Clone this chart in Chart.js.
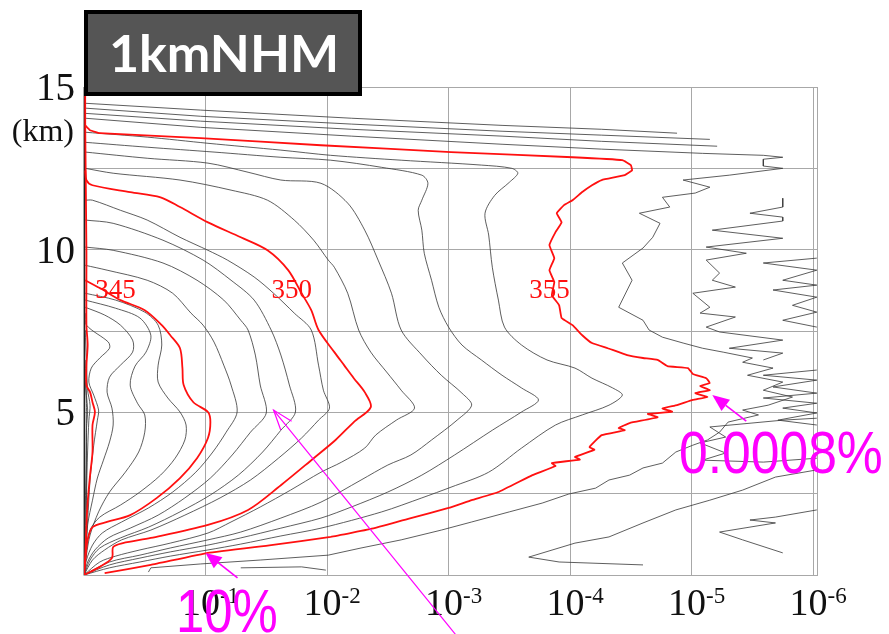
<!DOCTYPE html>
<html>
<head>
<meta charset="utf-8">
<script src="https://cdn.jsdelivr.net/npm/chart.js@4.4.1/dist/chart.umd.min.js"></script>
<style>
  html, body { margin: 0; padding: 0; background: #ffffff; }
  #wrap { width: 889px; height: 634px; position: relative; }
</style>
</head>
<body>
<div id="wrap"><canvas id="chart" width="889" height="634"></canvas></div>
<script>
// Frequency (log10 of fraction of grid points) of equivalent potential
// temperature exceeding each level, versus height in km.
// Each point is [log10(fraction), height km].

const c337 = [[-0.01,5.99],[-0.02,5.38],[-0.02,4.92],[-0.02,3.84],[-0.01,2.0],[0,0]];
const c338 = [[-0.01,6.61],[-0.02,5.53],[-0.03,5.07],[-0.02,4.45],[-0.02,2.92],[-0.01,1.08],[0,0]];
const c339 = [[-0.01,7.53],[-0.02,6.61],[-0.03,5.68],[-0.05,5.22],[-0.04,4.76],[-0.03,3.84],[-0.02,2.30],[-0.02,1.08],[0,0]];
const c340 = [[-0.01,15.0],[-0.01,13.82],[-0.02,9.98],[-0.02,7.68],[-0.03,7.07],[-0.02,6.45],[-0.02,5.84],[-0.05,5.62],[-0.07,5.31],[-0.09,5.01],[-0.07,4.61],[-0.07,3.78],[-0.05,3.07],[-0.03,2.24],[-0.02,1.54],[-0.01,0.52],[0,0]];
const c341 = [[-0.01,8.05],[-0.02,7.68],[-0.2,7.16],[-0.21,6.97],[-0.13,6.67],[-0.06,6.36],[-0.04,5.93],[-0.08,5.53],[-0.12,5.07],[-0.11,4.76],[-0.08,3.99],[-0.05,2.92],[-0.03,1.69],[-0.01,0.61],[0,0]];
const c342 = [[-0.01,8.23],[-0.17,7.99],[-0.30,7.68],[-0.40,7.22],[-0.40,6.85],[-0.30,6.45],[-0.21,6.08],[-0.19,5.62],[-0.23,5.13],[-0.24,4.61],[-0.21,4.09],[-0.16,3.53],[-0.11,2.98],[-0.07,2.30],[-0.03,1.54],[-0.02,0.77],[0,0]];
const c343 = [[-0.01,8.45],[-0.26,8.20],[-0.46,7.90],[-0.55,7.37],[-0.51,6.85],[-0.42,6.42],[-0.38,5.84],[-0.44,5.28],[-0.50,4.92],[-0.50,4.39],[-0.45,3.78],[-0.34,3.16],[-0.21,2.55],[-0.12,1.94],[-0.05,1.23],[-0.02,0.61],[0,0]];
const c344 = [[-0.01,8.66],[-0.26,8.45],[-0.50,8.08],[-0.61,7.68],[-0.64,7.07],[-0.61,6.45],[-0.61,5.93],[-0.69,5.44],[-0.79,5.01],[-0.84,4.61],[-0.83,4.15],[-0.75,3.59],[-0.63,3.07],[-0.46,2.55],[-0.30,2.15],[-0.13,1.78],[-0.05,1.38],[-0.02,0.77],[0,0]];
const c345 = [[-0.01,9.06],[-0.13,8.82],[-0.30,8.45],[-0.50,8.14],[-0.64,7.68],[-0.71,7.37],[-0.79,6.97],[-0.81,6.36],[-0.82,5.84],[-0.90,5.31],[-1.02,5.01],[-1.04,4.70],[-1.02,4.21],[-0.93,3.59],[-0.79,2.98],[-0.60,2.37],[-0.38,1.84],[-0.19,1.63],[-0.07,1.47],[-0.03,1.08],[-0.01,0.46],[0,0]];
const c346 = [[-0.01,9.52],[-0.19,9.37],[-0.52,9.06],[-0.73,8.66],[-0.88,8.05],[-0.98,7.68],[-1.07,7.16],[-1.15,6.45],[-1.21,5.84],[-1.26,5.01],[-1.17,4.39],[-1.06,3.78],[-0.92,3.16],[-0.73,2.55],[-0.53,2.06],[-0.31,1.63],[-0.15,1.29],[-0.07,0.92],[-0.02,0.46],[0,0]];
const c347 = [[-0.01,10.08],[-0.24,9.98],[-0.65,9.59],[-0.93,9.06],[-1.15,8.45],[-1.29,7.83],[-1.35,7.53],[-1.41,6.76],[-1.45,5.84],[-1.50,4.98],[-1.37,4.39],[-1.22,3.69],[-1.04,2.98],[-0.83,2.37],[-0.61,1.84],[-0.38,1.44],[-0.20,1.14],[-0.09,0.77],[-0.03,0.40],[0,0]];
const c348 = [[-0.01,10.91],[-0.24,10.81],[-0.65,10.29],[-0.98,9.68],[-1.21,9.06],[-1.40,8.45],[-1.54,7.53],[-1.62,6.76],[-1.69,5.84],[-1.74,5.01],[-1.62,4.45],[-1.47,3.78],[-1.27,3.07],[-1.04,2.46],[-0.79,1.94],[-0.53,1.47],[-0.30,1.14],[-0.13,0.83],[-0.05,0.46],[0,0]];
const c349 = [[-0.01,11.52],[-0.07,11.52],[-0.30,11.21],[-0.52,10.91],[-0.79,10.38],[-1.02,9.98],[-1.18,9.68],[-1.40,9.16],[-1.56,8.66],[-1.73,8.05],[-1.87,7.53],[-1.93,6.45],[-1.97,5.68],[-2.02,5.13],[-1.93,4.76],[-1.79,4.21],[-1.60,3.59],[-1.37,2.92],[-1.12,2.37],[-0.83,1.84],[-0.55,1.38],[-0.31,1.08],[-0.17,0.77],[-0.07,0.46],[0,0]];
const c350 = [[-0.01,12.44],[-0.02,12.14],[-0.07,11.98],[-0.38,11.77],[-0.63,11.61],[-0.79,11.31],[-1.02,10.84],[-1.29,10.38],[-1.51,9.98],[-1.68,9.37],[-1.79,8.66],[-1.87,8.14],[-1.93,7.53],[-2.06,6.85],[-2.14,6.45],[-2.22,6.05],[-2.31,5.62],[-2.36,5.16],[-2.22,4.70],[-2.07,4.15],[-1.89,3.59],[-1.62,2.76],[-1.35,2.00],[-1.02,1.54],[-0.55,1.14],[-0.32,0.98],[-0.24,0.86],[-0.23,0.52],[-0.13,0.25],[0,0]];
const c351 = [[-0.01,12.50],[-0.24,12.35],[-0.79,12.14],[-1.21,11.83],[-1.51,11.52],[-1.73,10.91],[-1.89,10.29],[-2.01,9.68],[-2.06,9.46],[-2.17,8.66],[-2.26,7.53],[-2.36,6.85],[-2.49,6.24],[-2.61,5.68],[-2.72,5.13],[-2.57,4.76],[-2.40,4.30],[-2.31,3.90],[-2.12,3.47],[-1.95,3.16],[-1.70,2.61],[-1.45,2.09],[-1.21,1.63],[-1.02,1.29],[-0.71,0.98],[-0.46,0.77],[-0.26,0.58],[-0.13,0.40],[0,0]];
const c352 = [[-0.01,13.00],[-0.52,12.81],[-1.02,12.66],[-1.35,12.38],[-1.62,12.14],[-1.95,12.04],[-2.17,11.43],[-2.31,10.60],[-2.42,9.68],[-2.53,8.66],[-2.61,7.53],[-2.78,6.76],[-2.94,6.14],[-3.11,5.59],[-3.19,5.22],[-3.07,4.76],[-2.86,4.15],[-2.69,3.69],[-2.50,3.38],[-2.28,2.92],[-1.95,2.24],[-1.62,1.75],[-1.29,1.32],[-1.02,1.08],[-0.71,0.83],[-0.46,0.61],[-0.21,0.40],[0,0]];
const c353 = [[-0.01,13.30],[-0.52,13.15],[-1.07,13.00],[-1.62,12.84],[-2.03,12.75],[-2.45,12.53],[-2.78,12.29],[-2.83,12.04],[-2.78,11.52],[-2.75,11.21],[-2.78,10.60],[-2.80,9.89],[-2.86,9.06],[-2.92,8.23],[-3.00,7.62],[-3.11,7.07],[-3.27,6.61],[-3.44,6.14],[-3.60,5.75],[-3.74,5.38],[-3.60,5.01],[-3.36,4.45],[-3.05,3.69],[-2.78,3.07],[-2.50,2.55],[-2.20,2.09],[-1.95,1.75],[-1.62,1.44],[-1.29,1.14],[-1.02,0.92],[-0.71,0.71],[-0.46,0.52],[-0.21,0.31],[0,0]];
const c354 = [[-0.01,13.61],[-0.52,13.46],[-1.02,13.27],[-1.62,13.06],[-2.03,12.90],[-2.61,12.75],[-3.27,12.60],[-3.52,12.50],[-3.57,12.35],[-3.50,12.07],[-3.38,11.67],[-3.30,11.12],[-3.33,10.45],[-3.36,9.46],[-3.41,8.45],[-3.46,7.62],[-3.60,7.07],[-3.81,6.61],[-4.04,6.36],[-4.18,6.05],[-4.35,5.75],[-4.43,5.53],[-4.32,5.22],[-4.10,4.92],[-3.88,4.61],[-3.60,3.90],[-3.33,3.16],[-3.02,2.70],[-2.78,2.37],[-2.45,1.94],[-1.95,1.44],[-1.62,1.20],[-1.29,0.95],[-1.02,0.77],[-0.71,0.58],[-0.46,0.40],[-0.21,0.22],[0,0]];
const c355 = [[-0.01,13.82],[-0.05,13.67],[-0.13,13.58],[-0.96,13.43],[-1.95,13.21],[-3.02,13.00],[-4.02,12.84],[-4.43,12.75],[-4.50,12.60],[-4.51,12.44],[-4.45,12.29],[-4.26,12.14],[-4.18,11.98],[-4.10,11.77],[-4.02,11.52],[-3.95,11.37],[-3.89,11.12],[-3.93,10.84],[-3.88,10.54],[-3.83,10.14],[-3.87,9.74],[-3.83,9.37],[-3.87,9.00],[-3.85,8.60],[-3.91,8.29],[-3.93,7.90],[-4.02,7.68],[-4.10,7.37],[-4.18,7.13],[-4.31,6.97],[-4.47,6.76],[-4.60,6.67],[-4.72,6.61],[-4.80,6.42],[-4.97,6.36],[-5.01,6.18],[-5.12,6.05],[-5.15,5.90],[-5.07,5.81],[-5.15,5.68],[-5.03,5.59],[-5.13,5.47],[-5.01,5.38],[-4.88,5.22],[-4.76,5.12],[-4.84,5.02],[-4.64,4.95],[-4.72,4.85],[-4.49,4.67],[-4.40,4.52],[-4.45,4.45],[-4.26,4.30],[-4.16,3.93],[-4.20,3.85],[-4.04,3.63],[-4.08,3.55],[-3.85,3.44],[-3.88,3.35],[-3.69,3.07],[-3.41,2.55],[-3.19,2.30],[-3.00,2.06],[-2.69,1.75],[-2.39,1.44],[-2.03,1.17],[-1.54,0.92],[-1.02,0.68],[-0.55,0.31],[-0.17,0.06]];
const c356 = [[-0.01,14.04],[-0.96,13.76],[-2.20,13.49],[-3.44,13.24],[-4.26,13.09],[-5.09,12.96],[-5.59,12.90],[-5.75,12.84],[-5.59,12.78],[-5.59,12.57],[-5.75,12.50],[-5.31,12.29],[-4.93,12.14],[-5.15,11.92],[-5.03,11.74],[-4.76,11.61],[-4.82,11.31],[-4.57,11.12],[-4.74,10.81],[-4.68,10.38],[-4.60,10.05],[-4.43,9.59],[-4.51,9.06],[-4.40,8.23],[-4.60,7.83],[-4.65,7.53],[-4.76,7.31],[-4.93,7.13],[-5.09,6.97],[-5.26,6.85],[-5.50,6.67],[-5.42,6.54],[-5.67,6.36],[-5.46,6.14],[-5.75,5.93],[-5.59,5.68],[-5.83,5.47],[-5.63,5.22],[-5.42,5.07],[-5.55,4.92],[-5.30,4.70],[-5.23,4.39],[-5.13,4.15],[-5.01,3.99],[-4.87,3.78],[-4.76,3.44],[-4.60,3.29],[-4.49,3.07],[-4.32,2.92],[-4.21,2.67],[-3.99,2.49],[-3.77,2.21],[-3.50,1.94],[-3.19,1.63],[-2.94,1.38],[-2.61,1.08],[-2.28,0.83],[-2.01,0.61],[-1.45,0.46],[-0.96,0.34],[-0.55,0.22],[-0.53,0.09]];
const c357 = [[-0.01,14.19],[-0.96,13.95],[-2.20,13.70],[-3.44,13.49],[-4.26,13.33],[-5.21,13.18]];
const c358 = [[-0.01,14.35],[-0.96,14.10],[-2.20,13.86],[-3.44,13.64],[-4.26,13.52],[-5.15,13.39]];
const c359 = [[-0.01,14.50],[-0.96,14.29],[-2.20,14.04],[-3.44,13.82],[-4.26,13.70],[-4.88,13.58]];

// Broken pieces of the rarest levels, where only a few grid points qualify
const c357a = [[-5.75,11.58],[-5.75,11.31],[-5.48,11.12],[-5.75,11.00],[-5.75,10.88],[-5.17,10.60],[-5.75,10.35],[-5.12,10.08],[-5.45,9.89],[-5.12,9.68],[-5.23,9.28],[-5.17,9.06],[-5.36,8.85],[-5.01,8.66],[-5.15,8.23],[-5.07,8.05],[-5.36,7.93],[-5.12,7.62],[-5.23,7.47],[-5.75,7.22],[-5.31,6.97],[-5.75,6.82],[-5.59,6.61]];
const c357b = [[-6.03,3.23],[-5.69,3.01],[-5.42,2.61],[-5.15,2.30],[-4.87,2.00],[-4.60,1.60],[-4.32,1.17],[-4.04,0.98],[-3.66,0.55],[-3.91,0.40],[-4.60,0.31]];
const c357c = [[-6.03,4.82],[-5.75,4.76],[-5.15,4.55],[-5.28,4.24],[-5.07,4.06],[-5.28,3.75],[-5.09,3.53],[-5.59,3.47],[-6.03,3.59]];
const c357d = [[-1.29,0.22],[-1.79,0.25],[-1.99,0.15]];
const c358a = [[-6.03,9.74],[-5.59,9.59],[-6.03,9.37],[-5.75,9.06],[-6.03,8.91],[-5.67,8.76],[-6.03,8.54],[-5.83,8.29],[-6.03,8.08],[-5.75,7.83],[-6.03,7.62]];
const c358b = [[-6.03,6.30],[-5.59,6.14],[-6.03,5.99],[-5.67,5.78],[-6.03,5.59],[-5.59,5.44],[-6.03,5.28],[-5.75,5.13],[-6.03,4.98],[-5.71,4.76],[-6.03,4.61]];
const c358c = [[-6.03,2.00],[-5.69,1.78],[-5.48,1.69],[-5.69,1.60],[-5.23,1.32],[-5.42,1.08],[-5.75,0.68]];

// Every 5 K level is drawn in red
const redLevels = [c340, c345, c350, c355];
const smoothGray = [c337, c338, c339, c341, c342, c343, c344, c346, c347, c348, c349, c351, c352, c353, c354];
const roughGray = [c356, c357, c358, c359, c357a, c357b, c357c, c357d, c358a, c358b, c358c];

// Axis ticks
const xTickExponents = [-1, -2, -3, -4, -5, -6];
const xGridExponents = [0, -1, -2, -3, -4, -5, -6];
const yTickValues = [15, 10, 5];
const yTickLabels = ['15', '10', '5'];
const yUnitLabel = '(km)';

// Contour labels: text, log10 fraction, height km
const contourLabelText = ['345', '350', '355'];
const contourLabelLog = [-0.26, -1.71, -3.83];
const contourLabelKm = [8.72, 8.72, 8.72];

const titleText = '1kmNHM';
const lowNote = '10%';
const highNote = '0.0008%';

const X_MIN_EXP = -6.04;

function toXY(pts) {
  return pts.map(p => ({ x: Math.pow(10, Math.max(p[0], X_MIN_EXP + 0.01)), y: p[1] }));
}
function makeSet(pts, color, width, order, tension) {
  return {
    data: toXY(pts), showLine: true, pointRadius: 0, pointHoverRadius: 0,
    borderColor: color, borderWidth: width, fill: false, order: order, tension: tension
  };
}

const datasets = [];
redLevels.forEach(p => datasets.push(makeSet(p, '#ff1010', 1.8, 0, p === c355 ? 0.1 : 0.3)));
smoothGray.forEach(p => datasets.push(makeSet(p, 'rgba(55,55,55,0.85)', 0.95, 1, 0.3)));
roughGray.forEach(p => datasets.push(makeSet(p, 'rgba(55,55,55,0.85)', 0.95, 1, 0)));

function arrow(ctx, x1, y1, x2, y2, len, half, filled) {
  const a = Math.atan2(y2 - y1, x2 - x1);
  const bx = x2 - len * Math.cos(a), by = y2 - len * Math.sin(a);
  const px = -Math.sin(a) * half, py = Math.cos(a) * half;
  ctx.beginPath();
  ctx.moveTo(x1, y1);
  ctx.lineTo(filled ? bx : x2, filled ? by : y2);
  ctx.stroke();
  ctx.beginPath();
  if (filled) {
    ctx.moveTo(x2, y2); ctx.lineTo(bx + px, by + py); ctx.lineTo(bx - px, by - py); ctx.closePath(); ctx.fill();
  } else {
    ctx.moveTo(bx + px, by + py); ctx.lineTo(x2, y2); ctx.lineTo(bx - px, by - py); ctx.stroke();
  }
}

const framePlugin = {
  id: 'frame',
  beforeDatasetsDraw(chart) {
    const { ctx, chartArea: a } = chart;
    ctx.save();
    ctx.strokeStyle = '#a8a8a8';
    ctx.lineWidth = 1;
    ctx.strokeRect(a.left, a.top + 0.5, a.right - a.left - 0.5, a.bottom - a.top);
    ctx.strokeStyle = '#222';
    ctx.lineWidth = 1.5;
    ctx.beginPath(); ctx.moveTo(a.left + 0.5, a.top); ctx.lineTo(a.left + 0.5, a.bottom); ctx.stroke();
    ctx.restore();
  },
  afterDraw(chart) {
    const { ctx, chartArea: a } = chart;
    const xs = chart.scales.x, ys = chart.scales.y;
    ctx.save();

    // y tick labels
    ctx.fillStyle = '#111';
    ctx.textAlign = 'right';
    ctx.textBaseline = 'alphabetic';
    ctx.font = '39px "Liberation Serif"';
    yTickValues.forEach((v, i) => {
      ctx.fillText(yTickLabels[i], a.left - 9, ys.getPixelForValue(v) + 13);
    });
    ctx.font = '32px "Liberation Serif"';
    ctx.fillText(yUnitLabel, a.left - 10, ys.getPixelForValue(15) + 54);

    // x tick labels: 10 with a superscript exponent
    xTickExponents.forEach(e => {
      const gx = xs.getPixelForValue(Math.pow(10, e));
      ctx.font = '38px "Liberation Serif"';
      const wb = ctx.measureText('10').width;
      ctx.font = '23px "Liberation Serif"';
      const sup = String(e);
      const ws = ctx.measureText(sup).width;
      const x0 = gx - (wb + ws) / 2 + 5;
      ctx.textAlign = 'left';
      ctx.font = '38px "Liberation Serif"';
      ctx.fillText('10', x0, a.bottom + 40);
      ctx.font = '23px "Liberation Serif"';
      ctx.fillText(sup, x0 + wb, a.bottom + 28);
    });

    // contour level labels
    ctx.fillStyle = '#ff1010';
    ctx.textAlign = 'center';
    ctx.textBaseline = 'middle';
    ctx.font = '27px "Liberation Serif"';
    contourLabelText.forEach((t, i) => {
      ctx.fillText(t, xs.getPixelForValue(Math.pow(10, contourLabelLog[i])), ys.getPixelForValue(contourLabelKm[i]));
    });

    // title box
    ctx.fillStyle = '#555555';
    ctx.fillRect(84, 10, 278, 86);
    ctx.strokeStyle = '#000';
    ctx.lineWidth = 4;
    ctx.strokeRect(86, 12, 274, 82);
    ctx.fillStyle = '#ffffff';
    ctx.font = 'bold 52px Lato';
    ctx.textAlign = 'center';
    ctx.textBaseline = 'alphabetic';
    ctx.fillText(titleText, 224, 72);

    // magenta notes and arrows
    ctx.fillStyle = '#ff00ff';
    ctx.strokeStyle = '#ff00ff';
    const tip1x = xs.getPixelForValue(0.1), tip1y = ys.getPixelForValue(0.68);
    ctx.lineWidth = 1.6;
    arrow(ctx, tip1x + 32, tip1y + 25, tip1x, tip1y, 16, 7, true);
    const tip2x = xs.getPixelForValue(Math.pow(10, -1.56)), tip2y = ys.getPixelForValue(5.07);
    ctx.lineWidth = 1.2;
    arrow(ctx, 460, 640, tip2x, tip2y, 20, 7, false);
    const tip3x = xs.getPixelForValue(Math.pow(10, -5.17)), tip3y = ys.getPixelForValue(5.53);
    ctx.lineWidth = 1.6;
    arrow(ctx, tip3x + 34, tip3y + 26, tip3x, tip3y, 17, 7, true);

    ctx.textAlign = 'left';
    ctx.font = '62px "Liberation Sans"';
    ctx.save(); ctx.translate(176, 632); ctx.scale(0.82, 1); ctx.fillText(lowNote, 0, 0); ctx.restore();
    ctx.font = '60px "Liberation Sans"';
    ctx.save(); ctx.translate(679, 473); ctx.scale(0.86, 1); ctx.fillText(highNote, 0, 0); ctx.restore();

    ctx.restore();
  }
};

new Chart(document.getElementById('chart'), {
  type: 'scatter',
  data: { datasets },
  options: {
    responsive: false,
    animation: false,
    devicePixelRatio: 1,
    layout: { padding: { left: 84, right: 71, top: 87, bottom: 59 } },
    plugins: { legend: { display: false }, tooltip: { enabled: false } },
    scales: {
      x: {
        type: 'logarithmic', reverse: true,
        min: Math.pow(10, X_MIN_EXP), max: 1,
        afterBuildTicks: s => { s.ticks = xGridExponents.map(e => ({ value: Math.pow(10, e) })); },
        ticks: { display: false },
        grid: { color: '#a8a8a8', lineWidth: 1, drawTicks: false },
        border: { display: false }
      },
      y: {
        type: 'linear', min: 0, max: 15,
        ticks: { display: false, stepSize: 2.5 },
        grid: { color: '#a8a8a8', lineWidth: 1, drawTicks: false },
        border: { display: false }
      }
    }
  },
  plugins: [framePlugin]
});
</script>
</body>
</html>
